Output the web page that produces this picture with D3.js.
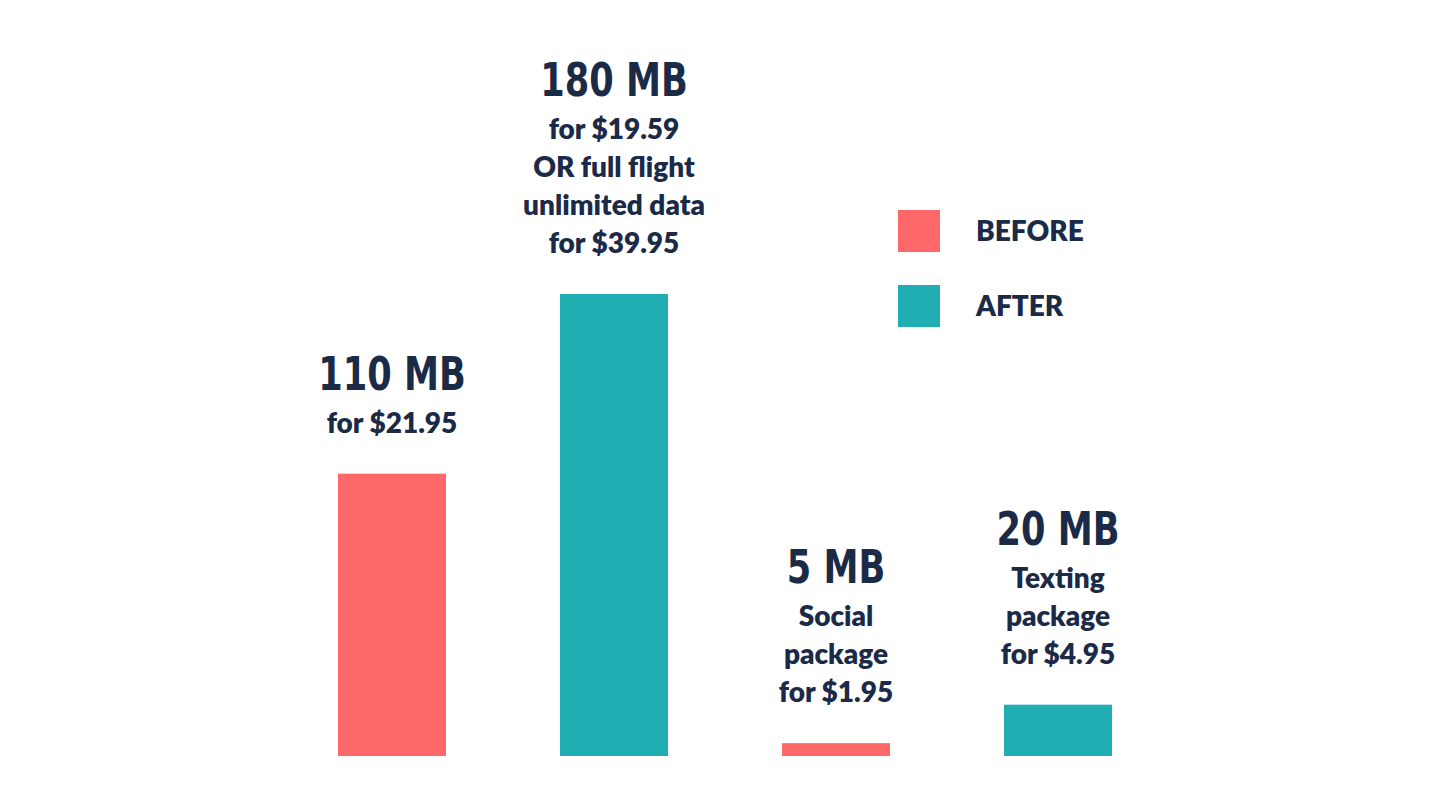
<!DOCTYPE html>
<html><head><meta charset="utf-8">
<script src="https://cdn.jsdelivr.net/npm/d3@7"></script>
<style>body{margin:0;background:#fff}</style>
</head><body>
<svg id="c" width="1440" height="810"></svg>
<script>
const categories = ["Before 1","After 1","Before 2","After 2"];
const values = [110, 180, 5, 20];
const groups = ["BEFORE","AFTER","BEFORE","AFTER"];
const titles = ["110 MB","180 MB","5 MB","20 MB"];
const sublines = [["for $21.95"],["for $19.59","OR full flight","unlimited data","for $39.95"],["Social","package","for $1.95"],["Texting","package","for $4.95"]];
const legendItems = ["BEFORE","AFTER"];

const color = d3.scaleOrdinal().domain(legendItems).range(["#fe6868","#20aeb3"]);
const svg = d3.select("#c");
const x = d3.scaleBand().domain(categories).range([338,1112]).paddingInner(0.5135).paddingOuter(0);
const y = d3.scaleLinear().domain([0,180]).range([756,294]);
const navy = "#1b2a47";

svg.selectAll("rect.bar").data(values).join("rect").attr("class","bar")
  .attr("x",(d,i)=>x(categories[i])).attr("width",x.bandwidth())
  .attr("y",d=>y(d)).attr("height",d=>y(0)-y(d))
  .attr("fill",(d,i)=>color(groups[i]));

values.forEach((v,i)=>{
  const cx = x(categories[i]) + x.bandwidth()/2;
  const lines = sublines[i];
  const lastBase = y(v) - 41;
  lines.forEach((t,j)=>{
    svg.append("text").attr("x",cx).attr("y",lastBase-(lines.length-1-j)*38)
      .attr("text-anchor","middle").attr("font-family","Lato, 'Open Sans', sans-serif")
      .attr("font-weight","800").attr("font-size",28).attr("fill",navy).text(t);
  });
  const titleBase = lastBase-(lines.length-1)*38 - 43;
  svg.append("text").attr("x",cx).attr("y",titleBase)
    .attr("text-anchor","middle").attr("font-family","'Liberation Sans Narrow', 'DejaVu Sans Condensed', sans-serif")
    .attr("font-weight","bold").attr("font-size",46).attr("fill",navy)
    .attr("transform",`translate(${cx},${titleBase}) scale(0.85,1) translate(${-cx},${-titleBase})`)
    .text(titles[i]);
});

legendItems.forEach((g,i)=>{
  const yy = 210 + i*75;
  svg.append("rect").attr("x",898).attr("y",yy).attr("width",42).attr("height",42).attr("fill",color(g));
  svg.append("text").attr("x",976).attr("y",yy+31).attr("font-family","Lato, 'Open Sans', sans-serif")
    .attr("font-weight","800").attr("font-size",28).attr("fill",navy).text(g);
});
</script>
</body></html>
